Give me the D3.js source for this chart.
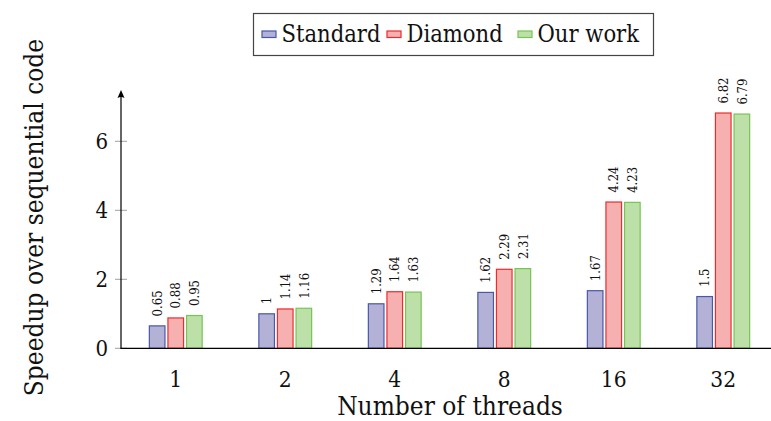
<!DOCTYPE html>
<html>
<head>
<meta charset="utf-8">
<script src="https://cdn.jsdelivr.net/npm/d3@7"></script>
<style>
  body { margin: 0; background: #fff; }
  svg text { font-family: 'DejaVu Serif Condensed', 'DejaVu Serif', serif; font-stretch: condensed; fill: #111; }
</style>
</head>
<body>
<svg id="chart" width="771" height="421"></svg>
<script>
// data
var threads = ['1', '2', '4', '8', '16', '32'];
var seriesNames = ['Standard', 'Diamond', 'Our work'];
var standard = [0.65, 1, 1.29, 1.62, 1.67, 1.5];
var diamond = [0.88, 1.14, 1.64, 2.29, 4.24, 6.82];
var ourWork = [0.95, 1.16, 1.63, 2.31, 4.23, 6.79];
var yTicks = [0, 2, 4, 6];

var seriesValues = [standard, diamond, ourWork];
var fills = ['#b3b1d6', '#f7b0b0', '#bde0a8'];
var strokes = ['#4858a8', '#ee2b2b', '#76c454'];

var svg = d3.select('#chart');

// layout
var axisLeft = 121, axisBottom = 348.3;

var xScale = d3.scaleBand().domain(threads).range([axisLeft, axisLeft + 6 * 109.5]);
var xInner = d3.scaleBand().domain(seriesNames).range([-26.9, 26.9]).paddingInner(0.107);
var yScale = d3.scaleLinear().domain([0, 7.43]).range([axisBottom, axisBottom - 7.43 * 34.5]);

// y ticks (gray, crossing the axis)
svg.append('g').selectAll('line')
    .data(yTicks)
    .enter().append('line')
    .attr('x1', axisLeft - 6).attr('x2', axisLeft + 6)
    .attr('y1', function(d) { return yScale(d); })
    .attr('y2', function(d) { return yScale(d); })
    .attr('stroke', '#a0a0a0').attr('stroke-width', 1);

svg.append('g').selectAll('text')
    .data(yTicks)
    .enter().append('text')
    .attr('x', axisLeft - 13)
    .attr('y', function(d) { return yScale(d); })
    .attr('dy', '0.36em')
    .attr('text-anchor', 'end')
    .style('font-size', '22px')
    .text(function(d) { return d; });

// bars
var groups = svg.append('g').selectAll('.group')
    .data(threads)
    .enter().append('g')
    .attr('class', 'group')
    .attr('transform', function(d) { return 'translate(' + (xScale(d) + xScale.bandwidth() / 2) + ',0)'; });

groups.selectAll('rect')
    .data(function(d, i) { return seriesNames.map(function(s, k) { return {s: s, k: k, v: seriesValues[k][i]}; }); })
    .enter().append('rect')
    .attr('x', function(d) { return xInner(d.s) + 0.5; })
    .attr('width', xInner.bandwidth() - 1)
    .attr('y', function(d) { return yScale(d.v); })
    .attr('height', function(d) { return axisBottom - yScale(d.v); })
    .attr('fill', function(d) { return fills[d.k]; })
    .attr('stroke', function(d) { return strokes[d.k]; })
    .attr('stroke-width', 1.2);

// value labels, rotated
groups.selectAll('.val')
    .data(function(d, i) { return seriesNames.map(function(s, k) { return {s: s, k: k, v: seriesValues[k][i]}; }); })
    .enter().append('text')
    .attr('class', 'val')
    .attr('transform', function(d) {
        return 'translate(' + [xInner(d.s) + xInner.bandwidth() / 2, yScale(d.v) - 9.5] + ') rotate(-90)';
    })
    .attr('dy', '0.36em')
    .style('font-size', '13px')
    .text(function(d) { return d.v; });

// axis lines
svg.append('line')
    .attr('x1', axisLeft - 0.5).attr('x2', 771)
    .attr('y1', axisBottom).attr('y2', axisBottom)
    .attr('stroke', '#000').attr('stroke-width', 1.2);

svg.append('line')
    .attr('x1', axisLeft).attr('x2', axisLeft)
    .attr('y1', axisBottom + 0.5).attr('y2', 94)
    .attr('stroke', '#000').attr('stroke-width', 1.2);
svg.append('path')
    .attr('d', 'M' + axisLeft + ',90 l-3.5,8 q3.5,-2 7,0 z')
    .attr('fill', '#000');

// x tick labels
svg.append('g').selectAll('text')
    .data(threads)
    .enter().append('text')
    .attr('x', function(d) { return xScale(d) + xScale.bandwidth() / 2; })
    .attr('y', 386.5)
    .attr('text-anchor', 'middle')
    .style('font-size', '22.5px')
    .text(function(d) { return d; });

// axis titles
svg.append('text')
    .attr('x', 450).attr('y', 414.5)
    .attr('text-anchor', 'middle')
    .style('font-size', '26px')
    .text('Number of threads');

svg.append('text')
    .attr('transform', 'translate(42.5,217.5) rotate(-90)')
    .attr('text-anchor', 'middle')
    .style('font-size', '26px')
    .text('Speedup over sequential code');

// legend
var legend = svg.append('g');
legend.append('rect')
    .attr('x', 253.5).attr('y', 13.5).attr('width', 400).attr('height', 42)
    .attr('fill', '#fff').attr('stroke', '#444').attr('stroke-width', 1.2);

var legendX = [262, 387, 518];
seriesNames.forEach(function(s, k) {
    legend.append('rect')
        .attr('x', legendX[k]).attr('y', 31).attr('width', 14).attr('height', 6.5)
        .attr('fill', fills[k]).attr('stroke', strokes[k]).attr('stroke-width', 1.2);
    legend.append('text')
        .attr('x', legendX[k] + 19.5).attr('y', 42.3)
        .style('font-size', '23.5px')
        .text(s);
});
</script>
</body>
</html>
